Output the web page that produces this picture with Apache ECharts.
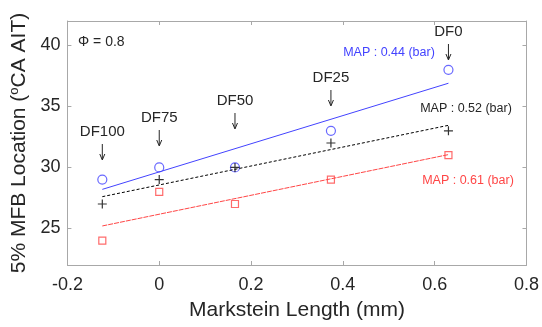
<!DOCTYPE html>
<html>
<head>
<meta charset="utf-8">
<script src="https://cdn.jsdelivr.net/npm/echarts@6/dist/echarts.min.js"></script>
<style>
  html, body { margin: 0; padding: 0; background: #fff; }
  #main { width: 542px; height: 327px; }
</style>
</head>
<body>
<div id="main"></div>
<script>
// Markstein length of each fuel blend (DF100 .. DF0)
const markstein = [-0.124, 0, 0.165, 0.374, 0.63];
const blendNames = ['DF100', 'DF75', 'DF50', 'DF25', 'DF0'];

// 5% MFB location per MAP
const map044 = [29, 30, 30, 33, 38];
const map052 = [27, 29, 30, 32, 33];
const map061 = [24, 28, 27, 29, 31];

// fitted trend lines, end points
const fitX = [-0.124, 0.63];
const fit044 = [28.2, 36.9];
const fit052 = [27.6, 33.45];
const fit061 = [25.2, 31.05];

const xTicks = [-0.2, 0, 0.2, 0.4, 0.6, 0.8];

const pairs = (xs, ys) => xs.map((x, i) => [x, ys[i]]);

const BLUE = '#4343ff';
const RED = '#ff4646';
const TXT = '#262626';
const AX = '#a8a8a8';
const FONT = '"Liberation Sans", Arial, sans-serif';

const chartDom = document.getElementById('main');
const myChart = echarts.init(chartDom);

const baseAxis = {
  axisLine: { show: true, onZero: false, lineStyle: { color: AX, width: 1 } },
  axisTick: { show: true, inside: true, length: 4, lineStyle: { color: AX } },
  splitLine: { show: false }
};

const option = {
  animation: false,
  backgroundColor: '#fff',
  textStyle: { fontFamily: FONT },
  grid: { left: 60, top: 21, right: 14, bottom: 62 },
  xAxis: [
    {
      ...baseAxis,
      type: 'value',
      min: -0.2,
      max: 0.8,
      interval: 0.2,
      name: 'Markstein Length (mm)',
      nameLocation: 'middle',
      nameGap: 35,
      nameTextStyle: { color: TXT, fontSize: 21, fontFamily: FONT },
      axisLabel: {
        color: TXT, fontSize: 18, margin: 11, fontFamily: FONT,
        formatter: v => {
          const t = xTicks.find(k => Math.abs(k - v) < 1e-9);
          return t === undefined ? '' : String(t);
        }
      }
    },
    {
      ...baseAxis,
      type: 'value',
      position: 'top',
      min: -0.2,
      max: 0.8,
      interval: 0.2,
      axisLabel: { show: false }
    }
  ],
  yAxis: [
    {
      ...baseAxis,
      type: 'value',
      min: 22,
      max: 42,
      splitNumber: 4,
      name: '5% MFB Location ({sup|o}CA AIT)',
      nameLocation: 'middle',
      nameGap: 30,
      nameTextStyle: {
        color: TXT, fontSize: 21, fontFamily: FONT,
        rich: { sup: { fontSize: 13, color: TXT, fontFamily: FONT, padding: [0, 0, 9, 0] } }
      },
      axisLabel: { color: TXT, fontSize: 18, margin: 7, fontFamily: FONT, showMinLabel: false, showMaxLabel: false }
    },
    {
      ...baseAxis,
      type: 'value',
      position: 'right',
      min: 22,
      max: 42,
      splitNumber: 4,
      axisLabel: { show: false }
    }
  ],
  series: [
    {
      name: 'fit 0.44', type: 'line', data: pairs(fitX, fit044), symbol: 'none',
      lineStyle: { color: BLUE, width: 1 }, silent: true
    },
    {
      name: 'fit 0.52', type: 'line', data: pairs(fitX, fit052), symbol: 'none',
      lineStyle: { color: '#000', width: 1, type: [3, 2] }, silent: true
    },
    {
      name: 'fit 0.61', type: 'line', data: pairs(fitX, fit061), symbol: 'none',
      lineStyle: { color: RED, width: 1, type: [5, 1] }, silent: true
    },
    {
      name: 'MAP 0.44', type: 'scatter', data: pairs(markstein, map044),
      symbol: 'circle', symbolSize: 9,
      itemStyle: { color: 'rgba(255,255,255,0)', borderColor: BLUE, borderWidth: 1.2 }
    },
    {
      name: 'MAP 0.52', type: 'scatter', data: pairs(markstein, map052),
      symbol: 'path://M0,5L10,5M5,0L5,10', symbolSize: 9,
      itemStyle: { color: 'rgba(0,0,0,0)', borderColor: '#000', borderWidth: 1.2 }
    },
    {
      name: 'MAP 0.61', type: 'scatter', data: pairs(markstein, map061),
      symbol: 'rect', symbolSize: 7,
      itemStyle: { color: 'rgba(255,255,255,0)', borderColor: RED, borderWidth: 1.2 }
    }
  ]
};

myChart.setOption(option);

// annotations: blend labels with down arrows above each point
const labelY = [132, 118, 101, 78, 32];
const graphics = [];
markstein.forEach((x, i) => {
  const px = myChart.convertToPixel({ xAxisIndex: 0 }, x);
  const ty = labelY[i];
  graphics.push({
    type: 'text', x: px, y: ty,
    style: { text: blendNames[i], fill: TXT, font: '15px ' + FONT, textAlign: 'center', textVerticalAlign: 'middle' }
  });
  graphics.push({
    type: 'line', shape: { x1: px, y1: ty + 12, x2: px, y2: ty + 27 },
    style: { stroke: TXT, lineWidth: 1 }
  });
  graphics.push({
    type: 'polyline', shape: { points: [[px - 2.5, ty + 22], [px, ty + 28], [px + 2.5, ty + 22]] },
    style: { stroke: TXT, lineWidth: 1, fill: null }
  });
});

graphics.push(
  { type: 'text', x: 78, y: 42, style: { text: '\u03A6 = 0.8', fill: TXT, font: '14px ' + FONT, textVerticalAlign: 'middle' } },
  { type: 'text', x: 389, y: 53, style: { text: 'MAP : 0.44 (bar)', fill: BLUE, font: '12.5px ' + FONT, textAlign: 'center', textVerticalAlign: 'middle' } },
  { type: 'text', x: 466, y: 109, style: { text: 'MAP : 0.52 (bar)', fill: TXT, font: '12.5px ' + FONT, textAlign: 'center', textVerticalAlign: 'middle' } },
  { type: 'text', x: 468, y: 181, style: { text: 'MAP : 0.61 (bar)', fill: RED, font: '12.5px ' + FONT, textAlign: 'center', textVerticalAlign: 'middle' } }
);

myChart.setOption({ graphic: graphics });
</script>
</body>
</html>
